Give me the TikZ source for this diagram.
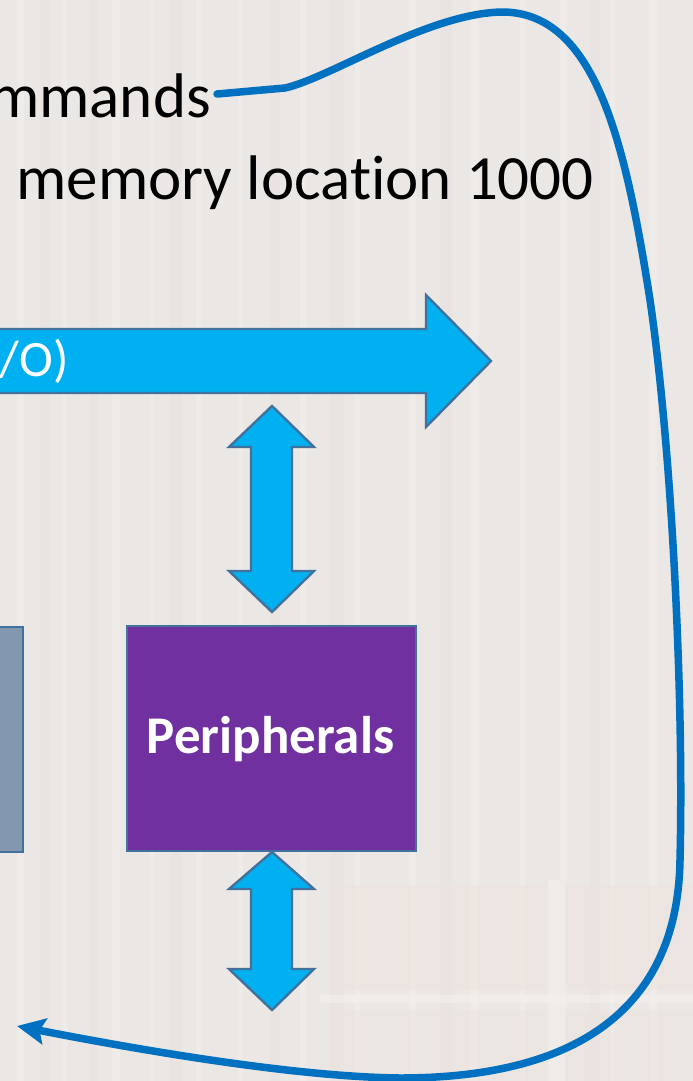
\documentclass[tikz,border=0pt]{standalone}
\usepackage{fontspec}
\setmainfont{Carlito}[Ligatures=NoCommon]
\usetikzlibrary{arrows.meta}
\definecolor{bgbase}{HTML}{EBE7E5}
\definecolor{bglight}{HTML}{F2EFEC}
\definecolor{bgwarm}{HTML}{EDE3DD}
\definecolor{bgdark}{HTML}{E6E1DF}
\definecolor{busblue}{HTML}{00B0F0}
\definecolor{edgeblue}{HTML}{41719C}
\definecolor{loopblue}{HTML}{0070C0}
\definecolor{periph}{HTML}{7030A0}
\definecolor{slate}{HTML}{8497B0}
\tikzset{
  txt/.style={inner sep=0pt, font=\fontsize{63}{75}\selectfont, text=black},
  blockarrow/.style={fill=busblue, draw=edgeblue, line width=2.4pt, line join=miter},
  unitbox/.style={draw=edgeblue, line width=2.4pt, inner sep=0pt, anchor=north west},
  looparrow/.style={draw=loopblue, line width=7.5pt, line cap=round,
    -{Stealth[length=28pt, width=26pt, inset=5pt]}}
}
\begin{document}
\begin{tikzpicture}[x=1pt, y=-1pt]
\useasboundingbox (0,0) rectangle (693,1081);

% faded die-photo backdrop
\fill[bgbase] (0,0) rectangle (693,1081);
\foreach \x/\w in {18/6, 62/5, 112/8, 150/4, 196/6, 238/5, 300/7, 355/5, 410/6, 470/8, 520/5, 560/6, 610/5, 650/7}
  \fill[bglight, opacity=0.6] (\x,0) rectangle ++(\w,1081);
\foreach \x/\w in {40/10, 90/8, 170/12, 270/10, 330/14, 440/12, 590/10}
  \fill[bgdark, opacity=0.4] (\x,0) rectangle ++(\w,1081);
\fill[bgwarm, opacity=0.6] (330,885) rectangle (545,990);
\fill[bgwarm, opacity=0.6] (565,885) rectangle (693,990);
\fill[bgwarm, opacity=0.4] (330,1010) rectangle (545,1081);
\fill[bgwarm, opacity=0.4] (565,1010) rectangle (693,1081);
\fill[bglight, opacity=0.7] (320,995) rectangle (693,1003);
\fill[bglight, opacity=0.7] (548,880) rectangle (560,1081);

% text lines
\node[txt, anchor=base east] (cmd) at (211,117) {mmands};
\node[txt, anchor=base east] (mem) at (594,199) {memory location 1000};

% system bus
\draw[blockarrow] (-5,329) -- (426,329) -- (426,295) -- (491,361) -- (426,427)
  -- (426,393) -- (-5,393) -- cycle;
\node[inner sep=0pt, anchor=base east, text=white, font=\fontsize{51}{60}\selectfont]
  (io) at (69,376) {I/O)};

% bus to peripherals
\draw[blockarrow] (272,406) -- (314,447) -- (292,447) -- (292,571) -- (314,571)
  -- (272,612) -- (229,571) -- (251,571) -- (251,447) -- (229,447) -- cycle;

% units
\node[unitbox, fill=slate, minimum width=28pt, minimum height=225pt] (mem box) at (-6,626) {};
\node[unitbox, fill=periph, minimum width=289pt, minimum height=225pt] (per) at (126,625) {};
\node[inner sep=0pt, anchor=base, text=white, font=\bfseries\fontsize{53}{60}\selectfont]
  (perlabel) at (270.5,753) {Peripherals};

% peripherals to outside world
\draw[blockarrow] (272,852) -- (314,889) -- (292,889) -- (292,969) -- (314,969)
  -- (272,1010) -- (229,969) -- (251,969) -- (251,889) -- (229,889) -- cycle;

% loop arrow
\coordinate (lstart) at (217,94);
\coordinate (lend) at (17,1026);
\draw[looparrow] (lstart) -- (285,88)
  .. controls (330,78) and (430,12) .. (504,12)
  .. controls (595,14) and (625,140) .. (650,300)
  .. controls (672,450) and (684,700) .. (680,860)
  .. controls (678,990) and (600,1078) .. (400,1078)
  .. controls (300,1077) and (150,1052) .. (lend);
\end{tikzpicture}
\end{document}
